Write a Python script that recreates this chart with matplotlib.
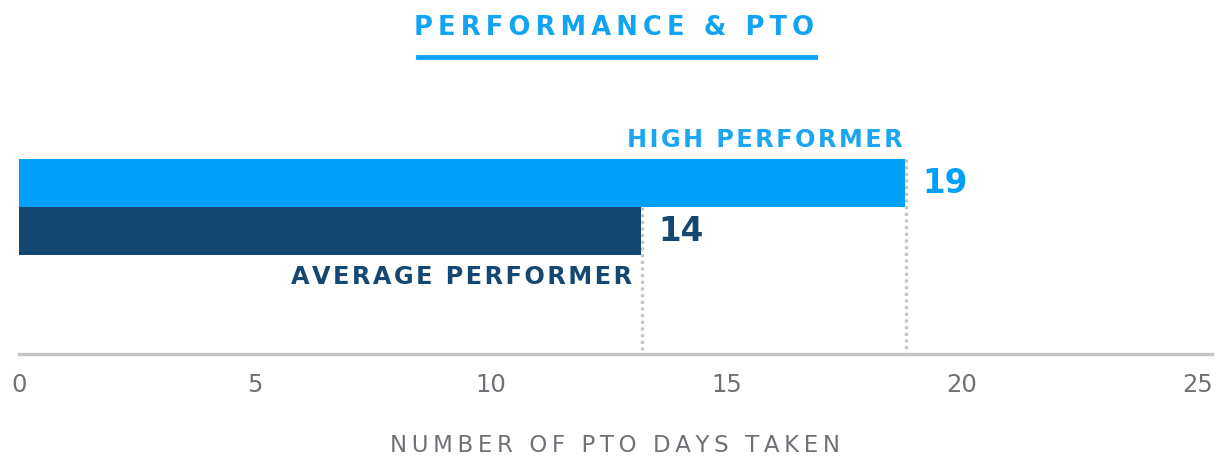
import matplotlib
matplotlib.use('Agg')
import matplotlib.pyplot as plt

# data
groups = ['HIGH PERFORMER', 'AVERAGE PERFORMER']
days = [18.8, 13.2]          # bar lengths as drawn
day_labels = ['19', '14']    # printed values
ticks = [0, 5, 10, 15, 20, 25]

light_blue = '#00a0f8'
navy = '#144872'
grey_txt = '#6e7276'
grey_line = '#c4c4c4'

plt.rcParams['font.family'] = ['DejaVu Sans']

HAIR = '\u200a'
THIN = '\u2009'


def track(s, sep=HAIR):
    # fake letter spacing with narrow spaces
    return sep.join(s)


W, H = 1228, 457
fig = plt.figure(figsize=(W / 100, H / 100), dpi=100)
ax = fig.add_axes([19 / W, 1 - 354 / H, (1212 - 19) / W, (354 - 100) / H])

ypos = [1, 0]
ax.barh(ypos, days, height=1, color=[light_blue, navy], align='center',
        zorder=2)
ax.set_xlim(0, 25.3)
ax.set_ylim(-2.56, 2.73)

# dotted drop lines from bar ends to axis
for y, d in zip(ypos, days):
    ax.plot([d + 0.02, d + 0.02], [y + 0.5, -2.56], color=grey_line, lw=2.4,
            ls=(0, (0.9, 1.1)), solid_capstyle='butt', zorder=1)

# value labels
for y, d, lab, c in zip(ypos, days, day_labels, [light_blue, navy]):
    ax.text(d + 0.35, y, lab, color=c, fontsize=23.5,
            fontweight='heavy', va='center', ha='left')

# group labels
ax.text(days[0] - 0.05, 1.9, track(groups[0]), color='#1aa6f2', fontsize=17.3,
        fontweight='bold', ha='right', va='center')
ax.text(days[1] - 0.2, -0.95, track(groups[1]), color=navy, fontsize=17.3,
        fontweight='bold', ha='right', va='center')

ax.set_xticks(ticks)
ax.set_xticklabels([str(t) for t in ticks])
ax.tick_params(axis='x', length=0, pad=14, labelsize=17.5, labelcolor=grey_txt)
ax.set_yticks([])
for s in ['top', 'right', 'left']:
    ax.spines[s].set_visible(False)
ax.spines['bottom'].set_color(grey_line)
ax.spines['bottom'].set_linewidth(2.4)

ax.set_xlabel(track('NUMBER OF PTO DAYS TAKEN', sep=THIN), color=grey_txt,
              fontsize=16.5, labelpad=26)

# title with underline
fig.text(614 / W, 1 - 28 / H, track('PERFORMANCE & PTO', sep=THIN),
         color='#12a4f4', fontsize=18.5, fontweight='bold',
         ha='center', va='center')
fig.add_artist(plt.Line2D([418 / W, 815 / W], [1 - 57 / H, 1 - 57 / H],
                          color='#12a4f4', lw=3.5))

fig.savefig('out.png', dpi=100)
